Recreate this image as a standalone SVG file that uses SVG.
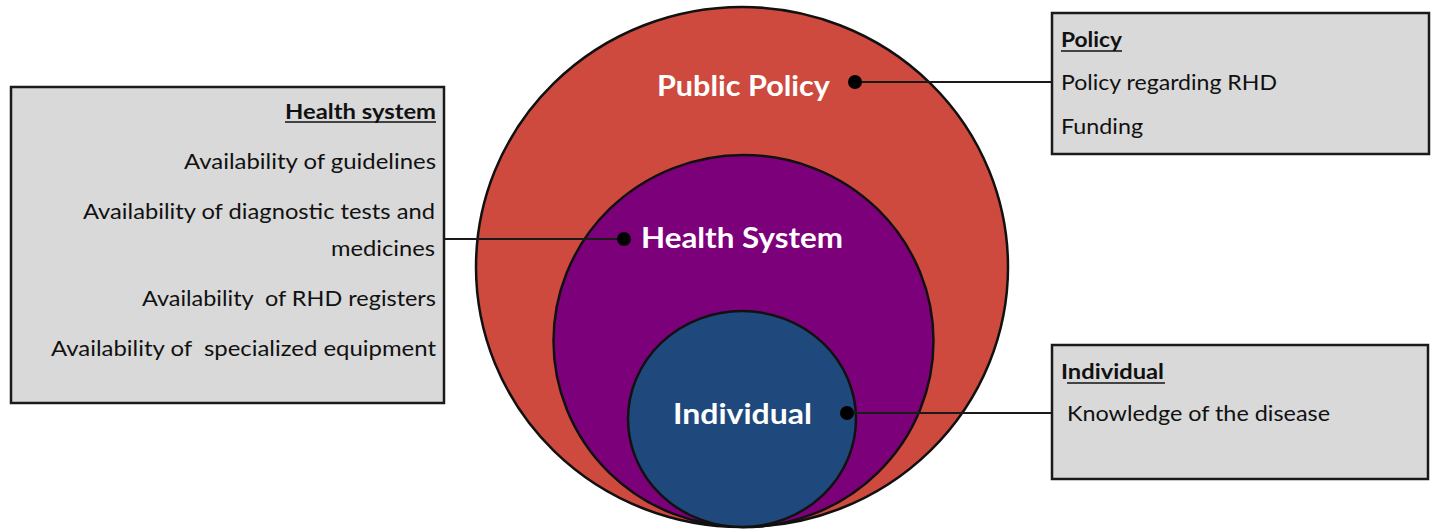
<svg xmlns="http://www.w3.org/2000/svg" width="1432" height="529" viewBox="0 0 1432 529">
  <style>
    .ring { stroke: #111; stroke-width: 2.5; }
    .box { fill: #d9d9d9; stroke: #1a1a1a; stroke-width: 2.5; }
    .label { font-family: Lato, "Open Sans", "Liberation Sans", sans-serif; font-weight: bold; font-size: 29px; fill: #ffffff; }
    .item { font-family: Lato, "Open Sans", "Liberation Sans", sans-serif; font-size: 21px; fill: #111; }
    .title { font-family: Lato, "Open Sans", "Liberation Sans", sans-serif; font-size: 21px; font-weight: bold; fill: #111; }
    .uline { stroke: #111; stroke-width: 1.6; }
    .link { stroke: #1a1a1a; stroke-width: 2; fill: none; }
    .dot { fill: #000; }
  </style>
  <rect width="1432" height="529" fill="#ffffff"/>

  <!-- nested levels, all touching at the bottom -->
  <g id="public-policy">
    <ellipse class="ring" cx="742" cy="267" rx="266" ry="260" fill="#cf4a3e"/>
    <text class="label" x="657" y="96" textLength="173" lengthAdjust="spacingAndGlyphs">Public Policy</text>
  </g>
  <g id="health-system">
    <ellipse class="ring" cx="743.5" cy="341" rx="190" ry="186" fill="#7d007b"/>
    <text class="label" x="641" y="248" textLength="202" lengthAdjust="spacingAndGlyphs">Health System</text>
  </g>
  <g id="individual">
    <ellipse class="ring" cx="742" cy="419" rx="114" ry="108" fill="#1f497d"/>
    <text class="label" x="673" y="424" textLength="139" lengthAdjust="spacingAndGlyphs">Individual</text>
  </g>

  <!-- connectors from each level to its description box -->
  <g id="connectors">
    <line class="link" x1="855" y1="82" x2="1052" y2="82"/>
    <circle class="dot" cx="855" cy="82" r="7"/>
    <line class="link" x1="436" y1="239" x2="624" y2="239"/>
    <circle class="dot" cx="624" cy="239" r="7"/>
    <line class="link" x1="847" y1="413" x2="1052" y2="413"/>
    <circle class="dot" cx="847" cy="413" r="7"/>
  </g>

  <g id="box-health-system">
    <rect class="box" x="11" y="87" width="433" height="316"/>
    <text class="title" x="436" y="119" text-anchor="end" textLength="151" lengthAdjust="spacingAndGlyphs">Health system</text>
    <line class="uline" x1="285" y1="122" x2="436" y2="122"/>
    <text class="item" x="436" y="169" text-anchor="end" textLength="252" lengthAdjust="spacingAndGlyphs">Availability of guidelines</text>
    <text class="item" x="435" y="219" text-anchor="end" textLength="352" lengthAdjust="spacingAndGlyphs">Availability of diagnostic tests and</text>
    <text class="item" x="435" y="256" text-anchor="end" textLength="104" lengthAdjust="spacingAndGlyphs">medicines</text>
    <text class="item" x="436" y="306" text-anchor="end" textLength="294" lengthAdjust="spacingAndGlyphs" xml:space="preserve">Availability  of RHD registers</text>
    <text class="item" x="436" y="356" text-anchor="end" textLength="385" lengthAdjust="spacingAndGlyphs" xml:space="preserve">Availability of  specialized equipment</text>
  </g>

  <g id="box-policy">
    <rect class="box" x="1052" y="13" width="377" height="141"/>
    <text class="title" x="1061" y="47" textLength="61" lengthAdjust="spacingAndGlyphs">Policy</text>
    <line class="uline" x1="1061" y1="51" x2="1122" y2="51"/>
    <text class="item" x="1061" y="90" textLength="216" lengthAdjust="spacingAndGlyphs">Policy regarding RHD</text>
    <text class="item" x="1061" y="134" textLength="82" lengthAdjust="spacingAndGlyphs">Funding</text>
  </g>

  <g id="box-individual">
    <rect class="box" x="1052" y="345" width="376" height="134"/>
    <text class="title" x="1061" y="379" textLength="103" lengthAdjust="spacingAndGlyphs">Individual</text>
    <line class="uline" x1="1067" y1="383" x2="1165" y2="383"/>
    <text class="item" x="1067" y="421" textLength="263" lengthAdjust="spacingAndGlyphs">Knowledge of the disease</text>
  </g>
</svg>
